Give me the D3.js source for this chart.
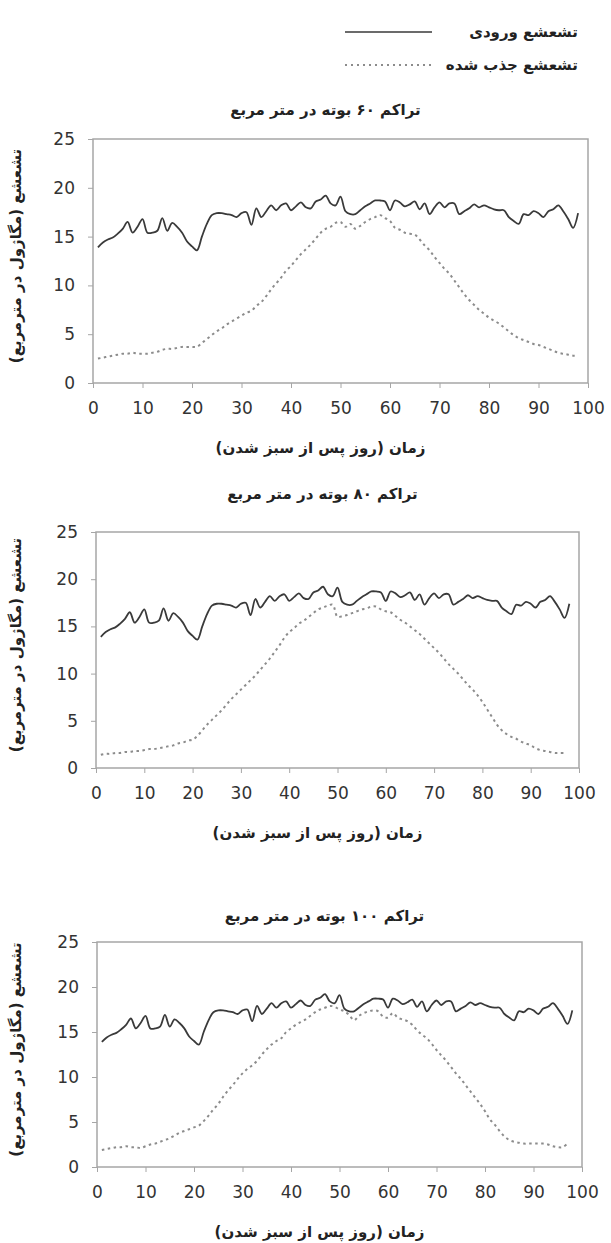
<!DOCTYPE html>
<html>
<head>
<meta charset="utf-8">
<script src="https://cdn.jsdelivr.net/npm/d3@7"></script>
<style>
  html, body { margin: 0; padding: 0; background: #fff; }
  svg { display: block; }
  .fa { font-family: "DejaVu Sans", sans-serif; font-weight: bold; fill: #222; }
  .tick-label { font-family: "DejaVu Sans", Verdana, sans-serif; font-size: 17px; fill: #333; }
</style>
</head>
<body>
<svg id="chart" width="611" height="1243"></svg>
<script>
// Daily incoming radiation (MJ/m²), days 1..98 after emergence
const incoming = [
  13.9, 14.4, 14.7, 14.9, 15.3, 15.8, 16.5, 15.4, 16.0, 16.8,
  15.4, 15.4, 15.6, 16.9, 15.6, 16.4, 16.0, 15.4, 14.5, 14.0,
  13.6, 15.0, 16.3, 17.2, 17.4, 17.4, 17.3, 17.2, 17.0, 17.4,
  17.5, 16.2, 17.9, 17.0, 17.6, 18.2, 17.7, 18.2, 18.4, 17.7,
  18.1, 18.5, 18.0, 17.9, 18.6, 18.8, 19.2, 18.4, 18.2, 19.1,
  17.6, 17.3, 17.3, 17.7, 18.1, 18.4, 18.7, 18.7, 18.6, 17.7,
  18.7, 18.5, 18.1, 18.3, 18.6, 17.8, 18.4, 17.3, 18.0, 18.5,
  18.0, 18.4, 18.4, 17.3, 17.6, 17.9, 18.3, 18.0, 18.2, 18.0,
  17.8, 17.7, 17.7, 17.0, 16.6, 16.3, 17.3, 17.2, 17.6, 17.4,
  17.0, 17.6, 17.8, 18.2, 17.6, 16.8, 15.9, 17.4
];

// Daily absorbed radiation at 60 plants/m²
const absorbed60 = [
  2.5, 2.6, 2.7, 2.8, 2.9, 3.0, 3.0, 3.1, 3.0, 3.0,
  3.0, 3.1, 3.2, 3.4, 3.5, 3.5, 3.6, 3.7, 3.7, 3.7,
  3.7, 4.1, 4.5, 4.9, 5.3, 5.6, 6.0, 6.3, 6.6, 6.9,
  7.2, 7.4, 7.9, 8.3, 8.9, 9.6, 10.2, 10.8, 11.5, 12.0,
  12.6, 13.2, 13.7, 14.2, 14.8, 15.4, 15.8, 16.0, 16.4, 16.5,
  16.0, 16.3, 15.8, 16.1, 16.5, 16.8, 17.0, 17.2, 16.9, 16.6,
  15.9, 15.7, 15.4, 15.3, 15.2, 14.7, 14.1, 13.6, 12.9, 12.3,
  11.7, 11.2, 10.5, 9.8, 9.1, 8.5, 8.0, 7.5, 7.1, 6.7,
  6.4, 6.1, 5.7, 5.3, 4.9, 4.6, 4.4, 4.2, 4.0, 3.9,
  3.7, 3.5, 3.3, 3.1, 3.0, 2.9, 2.8, 2.8
];

// Daily absorbed radiation at 80 plants/m²
const absorbed80 = [
  1.4, 1.5, 1.5, 1.6, 1.6, 1.7, 1.7, 1.8, 1.8, 1.9,
  2.0, 2.0, 2.1, 2.2, 2.3, 2.4, 2.6, 2.7, 2.9, 3.0,
  3.4, 4.0, 4.6, 5.1, 5.6, 6.1, 6.7, 7.3, 7.8, 8.3,
  8.8, 9.3, 9.8, 10.4, 11.0, 11.6, 12.3, 13.0, 13.8, 14.4,
  14.8, 15.3, 15.6, 16.0, 16.4, 16.8, 17.0, 17.2, 17.3, 16.0,
  16.1, 16.2, 16.4, 16.6, 16.8, 16.9, 17.1, 17.1, 16.8, 16.6,
  16.5, 16.1, 15.7, 15.4, 15.0, 14.6, 14.2, 13.7, 13.2, 12.7,
  12.2, 11.6, 11.0, 10.5, 10.0, 9.4, 8.8, 8.3, 7.7, 7.0,
  6.2, 5.4, 4.6, 4.0, 3.6, 3.3, 3.1, 2.8, 2.6, 2.4,
  2.1, 1.9, 1.8, 1.7, 1.6, 1.6, 1.6
];

// Daily absorbed radiation at 100 plants/m²
const absorbed100 = [
  1.9, 2.0, 2.1, 2.2, 2.2, 2.3, 2.2, 2.2, 2.1, 2.3,
  2.5, 2.6, 2.8, 3.0, 3.2, 3.5, 3.8, 4.0, 4.2, 4.4,
  4.6, 5.1, 5.7, 6.4, 7.0, 7.8, 8.5, 9.1, 9.8, 10.4,
  10.9, 11.3, 11.8, 12.5, 13.1, 13.6, 14.0, 14.3, 15.0, 15.4,
  15.8, 16.1, 16.4, 16.8, 17.2, 17.5, 17.7, 17.9, 17.8, 17.5,
  17.3, 16.9, 16.3, 16.8, 17.1, 17.3, 17.4, 17.3, 16.7, 16.6,
  17.1, 16.6, 16.4, 16.2, 15.8, 15.2, 14.7, 14.3, 13.7, 13.0,
  12.4, 11.8, 11.1, 10.4, 9.8, 9.1, 8.4, 7.7, 7.0, 6.2,
  5.3, 4.7, 4.0, 3.4, 3.0, 2.8, 2.7, 2.6, 2.6, 2.6,
  2.6, 2.6, 2.5, 2.3, 2.2, 2.2, 2.6
];

const panelTitles = [
  "تراکم ۶۰ بوته در متر مربع",
  "تراکم ۸۰ بوته در متر مربع",
  "تراکم ۱۰۰ بوته در متر مربع"
];
const absorbedSeries = [absorbed60, absorbed80, absorbed100];
const xTicks = [0, 10, 20, 30, 40, 50, 60, 70, 80, 90, 100];
const yTicks = [0, 5, 10, 15, 20, 25];
const xTitle = "زمان (روز پس از سبز شدن)";
const yTitle = "تشعشع (مگاژول در مترمربع)";
const legendLabels = ["تشعشع ورودی", "تشعشع جذب شده"];

// Plot boxes for the three stacked panels
const panels = [
  { left: 93, right: 588, top: 139, bottom: 383, titleY: 110 },
  { left: 96, right: 579, top: 532, bottom: 768, titleY: 494 },
  { left: 97, right: 582, top: 942, bottom: 1167, titleY: 916 }
];

const svg = d3.select("#chart");

const solidColor = "#3a3a3a";
const dotColor = "#8c8c8c";
const frameColor = "#a6a6a6";

// Legend
const legend = svg.append("g");
legend.append("line")
  .attr("x1", 345).attr("x2", 432).attr("y1", 32).attr("y2", 32)
  .attr("stroke", solidColor).attr("stroke-width", 1.6);
legend.append("line")
  .attr("x1", 345).attr("x2", 432).attr("y1", 65).attr("y2", 65)
  .attr("stroke", dotColor).attr("stroke-width", 2)
  .attr("stroke-dasharray", "2,4");
legend.selectAll("text.leg")
  .data(legendLabels)
  .join("text")
  .attr("class", "fa leg")
  .attr("x", 578)
  .attr("y", (d, i) => 37 + i * 33)
  .attr("text-anchor", "start")
  .attr("direction", "rtl")
  .style("font-size", "15px")
  .text(d => d);

panels.forEach((p, i) => {
  const g = svg.append("g");
  const x = d3.scaleLinear().domain([0, 100]).range([p.left, p.right]);
  const y = d3.scaleLinear().domain([0, 25]).range([p.bottom, p.top]);

  // Title
  g.append("text")
    .attr("class", "fa")
    .attr("x", (p.left + p.right) / 2 - 15)
    .attr("y", p.titleY + 5)
    .attr("text-anchor", "middle")
    .attr("direction", "rtl")
    .style("font-size", "15px")
    .text(panelTitles[i]);

  // Frame
  g.append("rect")
    .attr("x", p.left).attr("y", p.top)
    .attr("width", p.right - p.left).attr("height", p.bottom - p.top)
    .attr("fill", "none").attr("stroke", frameColor).attr("stroke-width", 1.5);

  // Axes
  const yAxis = g.append("g")
    .attr("transform", `translate(${p.left},0)`)
    .call(d3.axisLeft(y).tickValues(yTicks).tickSize(5).tickPadding(13));
  const xAxis = g.append("g")
    .attr("transform", `translate(0,${p.bottom})`)
    .call(d3.axisBottom(x).tickValues(xTicks).tickSize(5).tickPadding(14));
  [xAxis, yAxis].forEach(a => {
    a.select(".domain").remove();
    a.selectAll(".tick line").attr("stroke", frameColor).attr("stroke-width", 1);
    a.selectAll(".tick text").attr("class", "tick-label").attr("fill", null);
  });

  // Axis titles
  g.append("text")
    .attr("class", "fa")
    .attr("x", (p.left + p.right) / 2 - 20)
    .attr("y", p.bottom + 70)
    .attr("text-anchor", "middle")
    .attr("direction", "rtl")
    .style("font-size", "15px")
    .text(xTitle);
  g.append("text")
    .attr("class", "fa")
    .attr("transform", `translate(21,${(p.top + p.bottom) / 2 - 5}) rotate(-90)`)
    .attr("text-anchor", "middle")
    .attr("direction", "rtl")
    .style("font-size", "15px")
    .text(yTitle);

  const line = d3.line()
    .x((d, k) => x(k + 1))
    .y(d => y(d))
    .curve(d3.curveCatmullRom.alpha(0.5));

  // Absorbed radiation (dotted)
  g.append("path")
    .datum(absorbedSeries[i])
    .attr("d", line)
    .attr("fill", "none")
    .attr("stroke", dotColor)
    .attr("stroke-width", 2)
    .attr("stroke-dasharray", "2.5,3.5");

  // Incoming radiation (solid)
  g.append("path")
    .datum(incoming)
    .attr("d", line)
    .attr("fill", "none")
    .attr("stroke", solidColor)
    .attr("stroke-width", 1.8);
});
</script>
</body>
</html>
